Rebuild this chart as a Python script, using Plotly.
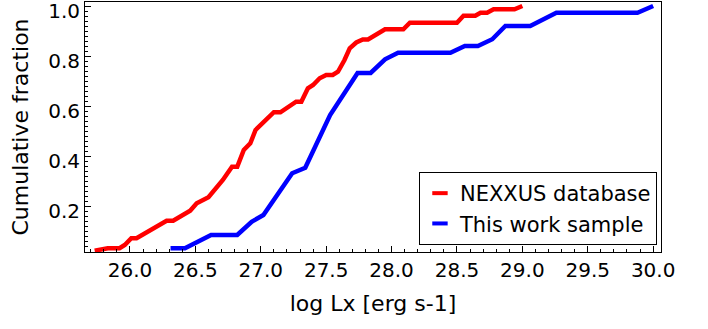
import plotly.graph_objects as go

# NEXXUS database cumulative distribution
nexxus_logLx = [25.73, 25.77, 25.83, 25.92, 25.96, 26.01, 26.05, 26.28, 26.33, 26.46,
                26.51, 26.60, 26.71, 26.78, 26.82, 26.87, 26.92, 26.96, 26.99, 27.10,
                27.15, 27.27, 27.31, 27.36, 27.40, 27.45, 27.50, 27.55, 27.59, 27.64,
                27.68, 27.73, 27.78, 27.82, 27.95, 28.09, 28.14, 28.50, 28.55, 28.64,
                28.68, 28.73, 28.78, 28.94, 29.00]
nexxus_frac = [0.021, 0.024, 0.031, 0.031, 0.044, 0.071, 0.071, 0.141, 0.141, 0.181,
               0.211, 0.235, 0.304, 0.357, 0.357, 0.424, 0.451, 0.504, 0.520, 0.575,
               0.575, 0.617, 0.617, 0.671, 0.684, 0.711, 0.724, 0.724, 0.737, 0.784,
               0.831, 0.854, 0.866, 0.866, 0.907, 0.907, 0.933, 0.933, 0.961, 0.961,
               0.973, 0.973, 0.987, 0.987, 1.0]

# This work sample cumulative distribution
work_logLx = [26.31, 26.42, 26.62, 26.82, 26.93, 27.02, 27.24, 27.34, 27.53, 27.74,
              27.84, 27.95, 28.05, 28.45, 28.56, 28.66, 28.77, 28.87, 29.06, 29.26,
              29.88, 30.0]
work_frac = [0.031, 0.031, 0.084, 0.084, 0.137, 0.164, 0.331, 0.353, 0.564, 0.732,
             0.732, 0.787, 0.813, 0.813, 0.840, 0.840, 0.867, 0.920, 0.920, 0.973,
             0.973, 1.0]

series_names = ["NEXXUS database", "This work sample"]
series_colors = ["#ff0000", "#0000ff"]

x_ticks = [26.0, 26.5, 27.0, 27.5, 28.0, 28.5, 29.0, 29.5, 30.0]
x_ticklabels = ["26.0", "26.5", "27.0", "27.5", "28.0", "28.5", "29.0", "29.5", "30.0"]
y_ticks = [0.2, 0.4, 0.6, 0.8, 1.0]
y_ticklabels = ["0.2", "0.4", "0.6", "0.8", "1.0"]

FONT = "DejaVu Sans"

fig = go.Figure()
for xs, ys, name, col in [(nexxus_logLx, nexxus_frac, series_names[0], series_colors[0]),
                          (work_logLx, work_frac, series_names[1], series_colors[1])]:
    fig.add_trace(go.Scatter(x=xs, y=ys, mode="lines", name=name, showlegend=False,
                             legendgroup=name, line=dict(color=col, width=4.5)))
    # legend entry with a short dash symbol
    fig.add_trace(go.Scatter(x=[None], y=[None], mode="markers", name=name,
                             legendgroup=name,
                             marker=dict(symbol="line-ew", size=11, color=col,
                                         line=dict(color=col, width=4))))

fig.update_layout(
    width=708, height=329,
    margin=dict(l=85, r=47, t=2, b=77, autoexpand=False),
    paper_bgcolor="white", plot_bgcolor="white",
    font=dict(family=FONT, size=20, color="black"),
    showlegend=True,
    legend=dict(x=0.993, y=0.028, xanchor="right", yanchor="bottom",
                bgcolor="white", bordercolor="black", borderwidth=1,
                font=dict(family=FONT, size=21), itemwidth=30,
                tracegroupgap=0),
)

fig.update_xaxes(
    range=[25.656, 30.06], showgrid=False, zeroline=False, automargin=False,
    showline=True, linecolor="black", linewidth=1, mirror=True,
    ticks="inside", ticklen=6, tickcolor="black",
    tickvals=x_ticks, ticktext=x_ticklabels,
    minor=dict(dtick=0.1, tick0=26.0, ticks="inside", ticklen=3, tickcolor="black"),
    tickfont=dict(family=FONT, size=20),
    title=dict(text="log Lx [erg s-1]", font=dict(family=FONT, size=22), standoff=14),
)
fig.update_yaxes(
    range=[0.016, 1.016], showgrid=False, zeroline=False, automargin=False,
    showline=True, linecolor="black", linewidth=1, mirror=True,
    ticks="inside", ticklen=6, tickcolor="black",
    tickvals=y_ticks, ticktext=y_ticklabels,
    minor=dict(dtick=0.02, tick0=0.0, ticks="inside", ticklen=3, tickcolor="black"),
    tickfont=dict(family=FONT, size=20), ticklabelshift=5, ticklabeloverflow="allow",
    title=dict(text="Cumulative fraction", font=dict(family=FONT, size=22), standoff=13),
)

fig.write_html("out.html")
